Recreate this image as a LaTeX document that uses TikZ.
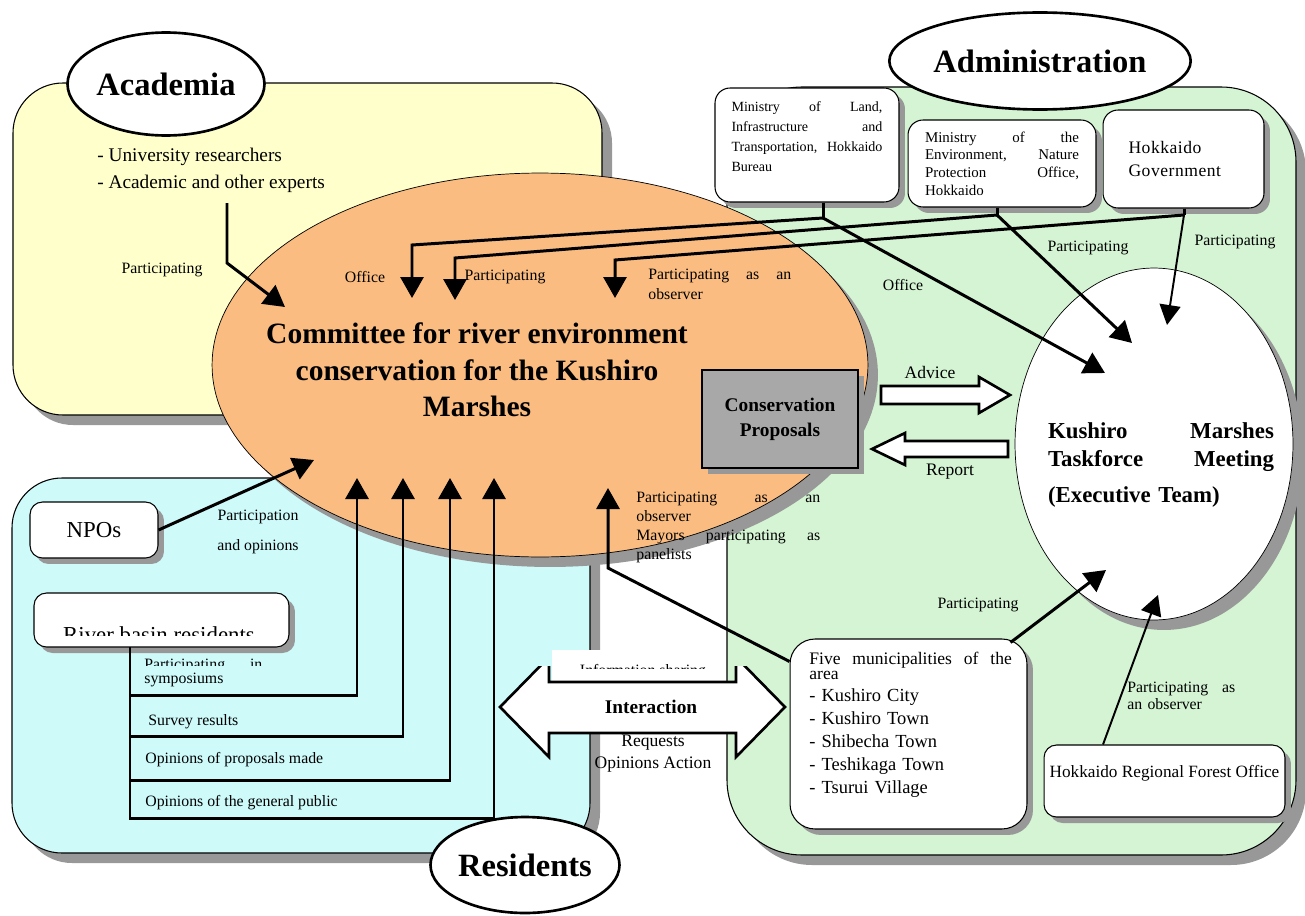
\documentclass[tikz,border=0pt]{standalone}
\usepackage{fontspec}
\setmainfont{Liberation Serif}
\usetikzlibrary{arrows.meta,shapes.geometric,shadows}
\setlength{\parindent}{0pt}

\definecolor{acadyellow}{RGB}{255,255,204}
\definecolor{resblue}{RGB}{206,250,250}
\definecolor{admgreen}{RGB}{212,244,212}
\definecolor{cmtorange}{RGB}{250,188,128}
\definecolor{propgray}{RGB}{168,168,168}
\definecolor{shadowgray}{RGB}{152,152,152}

\tikzset{
  bigshadow/.style={drop shadow={shadow xshift=0.2cm, shadow yshift=-0.2cm, fill=shadowgray, opacity=1}},
  smallshadow/.style={drop shadow={shadow xshift=0.12cm, shadow yshift=-0.12cm, fill=shadowgray, opacity=1}},
  region/.style={draw, line width=0.6pt, rounded corners=1cm, bigshadow},
  groupname/.style={ellipse, draw, line width=1.5pt, fill=white, inner sep=0pt, font=\fontsize{18.5}{20}\selectfont\bfseries},
  box/.style={draw, line width=0.6pt, fill=white, rounded corners=0.3cm, smallshadow},
  lbl/.style={inner sep=0pt, font=\fontsize{9}{11}\selectfont},
  flow/.style={line width=1.7pt, -{Triangle[length=0.42cm, width=0.46cm]}},
  thinflow/.style={line width=1.1pt, -{Triangle[length=0.4cm, width=0.42cm]}},
  link/.style={line width=1.7pt},
  blockarrow/.style={draw, line width=1.5pt, fill=white, line join=miter}
}

\begin{document}
\begin{tikzpicture}[x=0.02cm, y=-0.02cm]
\useasboundingbox (0,0) rectangle (1305,916);

% --- the three groups ---
\draw[region, fill=acadyellow] (13,83) rectangle (602,415);
\draw[region, fill=resblue] (12,478) rectangle (590,853);
\draw[region, fill=admgreen, rounded corners=1.5cm] (727,87) rectangle (1296,855);

\node[groupname, minimum width=3.94cm, minimum height=2.06cm] (academia) at (166,84) {Academia};
\node[groupname, minimum width=5.18cm, minimum height=1.94cm] (administration) at (1040,61) {Administration};

% --- committee ---
\node[ellipse, draw, line width=0.4pt, fill=cmtorange, bigshadow, minimum width=13.12cm, minimum height=7.68cm] (committee) at (540,365) {};
\node[font=\fontsize{16.8}{20.8}\selectfont\bfseries, align=center] (committeetext) at (477,370) {Committee for river environment\\conservation for the Kushiro\\Marshes};
\node[draw, line width=0.6pt, fill=propgray, smallshadow, minimum width=3.12cm, minimum height=1.96cm, font=\fontsize{11}{14.2}\selectfont\bfseries, align=center] (proposals) at (780,419) {Conservation\\Proposals};

% --- taskforce ---
\node[ellipse, draw, line width=0.4pt, fill=white, bigshadow, minimum width=5.56cm, minimum height=7.04cm] (taskforce) at (1154,444) {};
\node[font=\fontsize{13}{16}\selectfont\bfseries, text width=4.52cm, align=left] (taskforcetext) at (1161,465) {Kushiro\hfill Marshes\\Taskforce\hfill Meeting\\[4pt](Executive Team)};

% --- administration boxes ---
\node[box, minimum width=3.68cm, minimum height=2.28cm, text width=3.02cm, text depth=44pt, align=left, font=\fontsize{8}{11.4}\selectfont] (land) at (807,145) {Ministry\hfill of\hfill Land,\\Infrastructure\hfill and\\Transportation,\hfill Hokkaido\\Bureau};
\node[box, minimum width=3.76cm, minimum height=1.74cm, text width=3.08cm, align=left, font=\fontsize{8.5}{10}\selectfont] (env) at (1002,163.5) {Ministry\hfill of\hfill the\\Environment,\hfill Nature\\Protection\hfill Office,\\Hokkaido};
\node[box, minimum width=3.22cm, minimum height=1.96cm, text width=2.2cm, align=left, font=\fontsize{10}{13}\selectfont\addfontfeatures{LetterSpace=3}] (gov) at (1183.5,159) {Hokkaido\\Government};

\node[box, rounded corners=0.5cm, minimum width=4.74cm, minimum height=3.8cm] (muni) at (908.5,734) {};
\node[inner sep=0pt, text width=4.05cm, align=left, anchor=north west, font=\fontsize{10.5}{13.1}\selectfont] (munitext) at (809,652) {\fontsize{10}{13}\selectfont Five\hfill municipalities\hfill of\hfill the\\[-4.4pt]area\\[-0.6pt]\fontsize{10.5}{13.1}\selectfont - Kushiro City\\- Kushiro Town\\- Shibecha Town\\- Teshikaga Town\\- Tsurui Village};
\node[box, rounded corners=0.25cm, minimum width=4.82cm, minimum height=1.44cm, inner xsep=1pt, text height=7pt, text depth=11pt, font=\fontsize{9.8}{12}\selectfont] (forest) at (1164.5,781) {Hokkaido Regional Forest Office};

% --- residents boxes ---
\node[box, rounded corners=0.25cm, minimum width=2.56cm, minimum height=1.12cm, font=\fontsize{13}{15}\selectfont] (npo) at (94,530) {NPOs};
\node[box, rounded corners=0.25cm, minimum width=5.1cm, minimum height=1.08cm] (river) at (161.5,620) {};
\begin{scope}
  \clip (river.north west) rectangle (289,635);
  \node[anchor=base, inner sep=0pt, font=\fontsize{13}{15}\selectfont] (rivertext) at (159,642) {River basin residents};
\end{scope}

% --- academia ---
\node[anchor=west, align=left, inner sep=0pt, font=\fontsize{11}{15.4}\selectfont] (acadlist) at (97,170.5) {- University researchers\\- Academic and other experts};
\coordinate (acadfoot) at (227,203);
\coordinate (acadtip) at (285,307);
\draw[flow] (acadfoot) -- (227,263) -- (acadtip);
\node[lbl] (acadpart) at (162,270) {Participating};

% --- administration to committee and taskforce ---
\coordinate (landfoot) at (823,218);
\coordinate (envfoot) at (997,215);
\coordinate (govfoot) at (1184,215);
\coordinate (officetip) at (412,298);
\coordinate (parttip) at (455,300);
\coordinate (obstip) at (615,298);
\coordinate (officektip) at (1105,373);
\coordinate (partktip) at (1132,343);
\coordinate (govktip) at (1167,325);
\draw[link] (land.south -| landfoot) -- (landfoot);
\draw[link] (env.south -| envfoot) -- (envfoot);
\draw[link] (gov.south -| govfoot) -- (govfoot);
\draw[flow] (landfoot) -- (412,245) -- (officetip);
\draw[flow] (envfoot) -- (455,258) -- (parttip);
\draw[flow] (govfoot) -- (615,260) -- (obstip);
\draw[flow] (landfoot) -- (officektip);
\draw[flow] (envfoot) -- (partktip);
\draw[thinflow] (govfoot) -- (govktip);
\node[lbl] (officelbl) at (365,277) {Office};
\node[lbl] (partlbl) at (505,277) {Participating};
\node[lbl, text width=2.86cm, align=left, anchor=north west, font=\fontsize{9}{11.4}\selectfont] (obslbl) at (648,269) {Participating\hfill as\hfill an\\observer};
\node[lbl] (officeklbl) at (903,285) {Office};
\node[lbl] (partklbl) at (1088,248) {Participating};
\node[lbl] (govklbl) at (1235,242) {Participating};

% --- advice and report ---
\draw[blockarrow] (881,386) -- (979,386) -- (979,377) -- (1010,395) -- (979,413) -- (979,404) -- (881,404) -- cycle;
\draw[blockarrow] (1008,441) -- (905,441) -- (905,433) -- (872,449) -- (905,465) -- (905,457) -- (1008,457) -- cycle;
\node[lbl, font=\fontsize{10}{12}\selectfont] (advice) at (930,372) {Advice};
\node[lbl, font=\fontsize{10}{12}\selectfont] (report) at (950,472) {Report};

% --- municipalities and forest office ---
\coordinate (mayortip) at (608,488);
\coordinate (munitip) at (1106,570);
\coordinate (foresttip) at (1158,595);
\draw[flow] ([yshift=-0.46cm]muni.north west) -- (608,568) -- (mayortip);
\draw[flow] ([xshift=-0.34cm,yshift=-0.08cm]muni.north east) -- (munitip);
\draw[thinflow] ([xshift=-1.23cm]forest.north) -- (foresttip);
\node[lbl, text width=3.68cm, align=left, anchor=north west, font=\fontsize{9}{10.8}\selectfont] (mayorlbl) at (636,492) {Participating\hfill as\hfill an\\observer\\Mayors\hfill participating\hfill as\\panelists};
\node[lbl] (munilbl) at (978,605) {Participating};
\node[lbl, text width=2.16cm, align=left, anchor=north west, font=\fontsize{9}{9.7}\selectfont] (forestlbl) at (1127,682) {Participating\hfill as\\an observer};

% --- residents to committee ---
\coordinate (riverfoot) at (130,647);
\coordinate (symtip) at (357,478);
\coordinate (surveytip) at (403,478);
\coordinate (proptip) at (450,478);
\coordinate (publictip) at (494,478);
\coordinate (npotip) at (314,460);
\draw[flow] (riverfoot) |- (357,695) -- (symtip);
\draw[flow] (riverfoot) |- (403,736) -- (surveytip);
\draw[flow] (riverfoot) |- (450,780) -- (proptip);
\draw[flow] (riverfoot) |- (494,818) -- (publictip);
\draw[flow] (npo.east) -- (npotip);
\node[lbl] (npolbl1) at (258,517) {Participation};
\node[lbl] (npolbl2) at (258,547) {and opinions};
\begin{scope}
  \clip (140,650) rectangle (300,665);
  \node[lbl, anchor=base west, text width=2.36cm, align=left] (symlbl1) at (144,669) {Participating\hfill in};
\end{scope}
\node[lbl, anchor=west] (symlbl2) at (144,680) {symposiums};
\node[lbl, anchor=west] (surveylbl) at (148,722) {Survey results};
\node[lbl, anchor=west] (proplbl) at (145,760) {Opinions of proposals made};
\node[lbl, anchor=west] (publiclbl) at (145,803) {Opinions of the general public};

% --- interaction ---
\fill[white] (552,650) rectangle (724,682);
\begin{scope}
  \clip (480,666) rectangle (800,800);
  \draw[blockarrow] (500,707) -- (549,657) -- (549,682) -- (736,682) -- (736,657) -- (785,707) -- (736,757) -- (736,733) -- (549,733) -- (549,757) -- cycle;
\end{scope}
\begin{scope}
  \clip (540,640) rectangle (740,668);
  \node[lbl, anchor=base] (infolbl) at (643,675) {Information sharing};
\end{scope}
\node[inner sep=0pt, font=\fontsize{11}{13}\selectfont\bfseries] (interaction) at (651,707) {Interaction};
\node[lbl, align=center, font=\fontsize{10}{12.5}\selectfont] (requests) at (653,754) {Requests\\Opinions Action};

\node[groupname, minimum width=3.4cm, minimum height=1.92cm] (residents) at (525,865) {Residents};
\end{tikzpicture}
\end{document}
